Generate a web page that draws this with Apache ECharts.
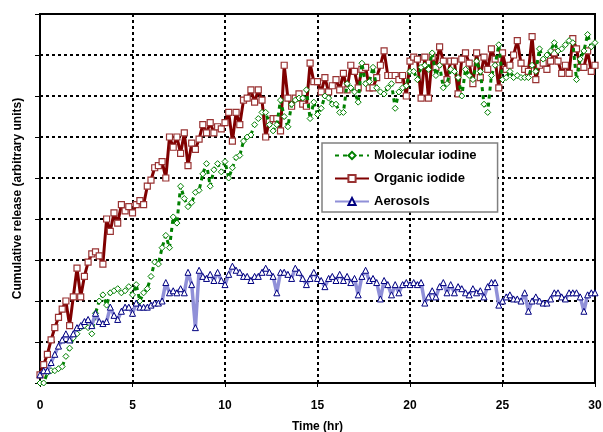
<!DOCTYPE html>
<html>
<head>
<meta charset="utf-8">
<script src="https://cdn.jsdelivr.net/npm/echarts@6/dist/echarts.min.js"></script>
<style>
html,body{margin:0;padding:0;background:#fff;}
#chart{width:603px;height:432px;}
</style>
</head>
<body>
<div id="chart"></div>
<script>
// Sampling step (hours) shared by all series, 0..30 hr
var timeStep = 0.2;
var xTicks = [0, 5, 10, 15, 20, 25, 30];
var seriesNames = ['Molecular iodine', 'Organic iodide', 'Aerosols'];

var molecularIodine = [
  0.0, 0.0, 0.25, 0.3, 0.3, 0.35, 0.4, 0.65, 0.85, 1.1,
  1.2, 1.35, 1.4, 1.35, 1.2, 1.7, 2.0, 2.15, 1.9, 2.2,
  2.25, 2.3, 2.2, 2.25, 2.35, 2.15, 2.4, 2.0, 2.2, 2.3,
  2.6, 2.95, 2.9, 3.3, 3.6, 3.3, 4.05, 3.9, 4.8, 4.5,
  4.3, 4.4, 4.65, 4.7, 5.1, 5.35, 4.8, 5.2, 5.35, 5.15,
  5.4, 5.0, 5.25, 5.5, 5.55, 5.9, 6.0, 6.05, 6.3, 6.45,
  6.6, 6.6, 6.3, 6.15, 6.3, 6.9, 6.5, 6.25, 6.8, 6.9,
  6.95, 6.95, 7.15, 6.45, 6.85, 6.55, 6.7, 7.0, 6.95, 6.8,
  6.8, 6.6, 6.6, 7.3, 7.2, 7.1, 6.85, 7.8, 7.3, 7.35,
  7.7, 7.2, 7.1, 7.05, 7.2, 7.3, 6.7, 7.1, 7.2, 7.25,
  7.6, 7.6, 7.4, 7.7, 7.75, 7.65, 8.05, 7.5, 7.75, 7.2,
  7.3, 7.65, 7.6, 7.45, 7.0, 7.65, 7.5, 7.4, 7.85, 7.6,
  6.8, 6.6, 7.5, 7.75, 8.25, 7.4, 7.45, 7.6, 7.45, 7.5,
  7.45, 7.45, 7.45, 7.75, 7.6, 8.15, 7.9, 8.0, 8.1, 8.3,
  8.1, 8.15, 8.25, 8.35, 8.3, 7.4, 7.9, 8.1, 8.5, 8.2,
  8.3
];

var organicIodide = [
  0.2, 0.45, 0.7, 1.05, 1.35, 1.6, 1.8, 2.0, 1.4, 2.1,
  2.8, 2.1, 2.6, 2.95, 3.15, 3.2, 3.1, 2.9, 4.0, 3.7,
  4.15, 3.9, 4.35, 4.2, 4.3, 4.15, 4.35, 4.45, 4.35, 4.8,
  4.95, 5.25, 5.3, 5.4, 5.0, 6.0, 5.75, 6.0, 5.6, 6.1,
  5.3, 5.85, 5.7, 5.95, 6.3, 6.1, 6.35, 6.1, 6.25, 6.2,
  6.35, 6.6, 5.9, 6.6, 6.3, 6.9, 6.95, 7.15, 6.85, 7.15,
  6.9, 6.0, 6.4, 6.45, 6.45, 6.15, 7.75, 6.95, 6.75, 6.95,
  7.05, 6.8, 6.75, 7.8, 7.35, 7.35, 7.1, 7.45, 7.1, 7.25,
  7.4, 7.15, 7.55, 7.15, 7.75, 7.6, 7.2, 7.65, 7.7, 7.2,
  7.2, 7.45, 7.75, 8.1, 7.5, 7.5, 7.5, 7.4, 7.5, 7.0,
  7.85, 7.95, 7.9, 6.95, 7.95, 6.95, 7.95, 7.7, 8.2, 7.85,
  7.4, 7.85, 7.85, 7.05, 7.9, 8.05, 7.8, 7.3, 8.05, 7.45,
  7.95, 7.65, 8.15, 7.9, 7.2, 8.05, 7.65, 7.75, 8.0, 8.35,
  7.8, 7.65, 7.6, 8.45, 7.4, 7.75, 7.8, 7.65, 7.85, 8.05,
  7.85, 7.55, 7.75, 7.55, 8.4, 8.15, 7.7, 7.7, 8.1, 7.6,
  7.75
];

var aerosols = [
  0.2, 0.3, 0.3, 0.5, 0.7, 0.9, 1.05, 1.2, 1.05, 1.2,
  1.35, 1.4, 1.5, 1.55, 1.4, 1.7, 1.5, 1.45, 1.5, 1.85,
  1.65, 1.55, 1.75, 1.85, 1.85, 1.7, 1.95, 1.85, 1.85, 1.85,
  1.9, 1.95, 1.95, 2.0, 2.45, 2.2, 2.25, 2.2, 2.3, 2.2,
  2.7, 2.4, 1.35, 2.75, 2.6, 2.55, 2.65, 2.5, 2.7, 2.5,
  2.4, 2.65, 2.85, 2.75, 2.7, 2.6, 2.6, 2.5, 2.6, 2.6,
  2.7, 2.8, 2.7, 2.6, 2.2, 2.7, 2.7, 2.65, 2.55, 2.8,
  2.7, 2.55, 2.4, 2.55, 2.7, 2.55, 2.5, 2.35, 2.55, 2.6,
  2.5, 2.65, 2.5, 2.6, 2.45, 2.55, 2.15, 2.6, 2.75, 2.5,
  2.55, 2.45, 2.05, 2.5, 2.4, 2.15, 2.4, 2.2, 2.4, 2.45,
  2.4, 2.45, 2.4, 2.45, 1.95, 2.1, 2.25, 2.1, 2.35, 2.45,
  2.2, 2.4, 2.2, 2.35, 2.3, 2.2, 2.15, 2.3, 2.2, 2.25,
  2.1, 2.35, 2.45, 2.45, 1.9, 2.0, 2.1, 2.15, 2.05, 2.05,
  2.0, 2.2, 1.75, 2.0, 2.1, 2.0, 1.95, 1.95, 2.05, 2.2,
  2.2, 2.1, 2.05, 2.2, 2.2, 2.2, 2.1, 1.75, 2.15, 2.2,
  2.2
];

function pairs(values) {
  return values.map(function (v, i) { return [Math.round(i * timeStep * 100) / 100, v]; });
}

var FONT = '"Liberation Sans", Arial, sans-serif';
var chart = echarts.init(document.getElementById('chart'), null, {renderer: 'canvas'});

var option = {
  animation: false,
  backgroundColor: '#fff',
  textStyle: {fontFamily: FONT},
  grid: {
    left: 40, top: 14, right: 8, bottom: 49,
    outerBoundsMode: 'none', containLabel: false,
    show: true, borderColor: '#000', borderWidth: 2, backgroundColor: 'transparent'
  },
  legend: {
    orient: 'vertical',
    left: 322, top: 143,
    padding: [5, 21, 3, 12],
    itemWidth: 34, itemHeight: 9, itemGap: 8,
    borderColor: '#808080', borderWidth: 1.5,
    backgroundColor: '#fff',
    textStyle: {fontFamily: FONT, fontWeight: 'bold', fontSize: 13, color: '#000', lineHeight: 15},
    data: seriesNames
  },
  xAxis: {
    type: 'value', min: 0, max: 30, interval: 5,
    name: 'Time (hr)', nameLocation: 'middle', nameGap: 38,
    nameTextStyle: {fontFamily: FONT, fontWeight: 'bold', fontSize: 12, color: '#000'},
    axisLine: {show: true, lineStyle: {color: '#000', width: 2}},
    axisTick: {show: true, inside: false, length: 4, lineStyle: {color: '#000', width: 1}},
    axisLabel: {
      margin: 17, fontFamily: FONT, fontWeight: 'bold', fontSize: 12, color: '#000',
      formatter: function (v) { return xTicks.indexOf(v) >= 0 ? String(v) : ''; }
    },
    splitLine: {show: true, lineStyle: {color: '#000', width: 2, type: [3, 3]}}
  },
  yAxis: {
    type: 'value', min: 0, max: 9, interval: 1,
    name: 'Cumulative release (arbitrary units)', nameLocation: 'middle', nameGap: 16,
    nameTextStyle: {fontFamily: FONT, fontWeight: 'bold', fontSize: 12, color: '#000'},
    axisLine: {show: true, lineStyle: {color: '#000', width: 2}},
    axisTick: {show: true, inside: false, length: 5, lineStyle: {color: '#000', width: 1}},
    axisLabel: {show: false},
    splitLine: {show: true, lineStyle: {color: '#000', width: 2, type: [3, 3]}}
  },
  series: [
    {
      name: seriesNames[0], type: 'line', data: pairs(molecularIodine), z: 4,
      symbol: 'diamond', symbolSize: 6, showAllSymbol: true,
      lineStyle: {color: '#008000', width: 3, type: [4, 4]},
      itemStyle: {color: '#ffffff', borderColor: '#008000', borderWidth: 1}
    },
    {
      name: seriesNames[1], type: 'line', data: pairs(organicIodide), z: 3,
      symbol: 'rect', symbolSize: 6, showAllSymbol: true,
      lineStyle: {color: '#800000', width: 3},
      itemStyle: {color: '#ffffff', borderColor: '#993333', borderWidth: 1.2}
    },
    {
      name: seriesNames[2], type: 'line', data: pairs(aerosols), z: 5,
      symbol: 'triangle', symbolSize: 6, showAllSymbol: true,
      lineStyle: {color: '#9090d8', width: 3.5},
      itemStyle: {color: '#ffffff', borderColor: '#000080', borderWidth: 1}
    }
  ]
};
chart.setOption(option);
</script>
</body>
</html>
